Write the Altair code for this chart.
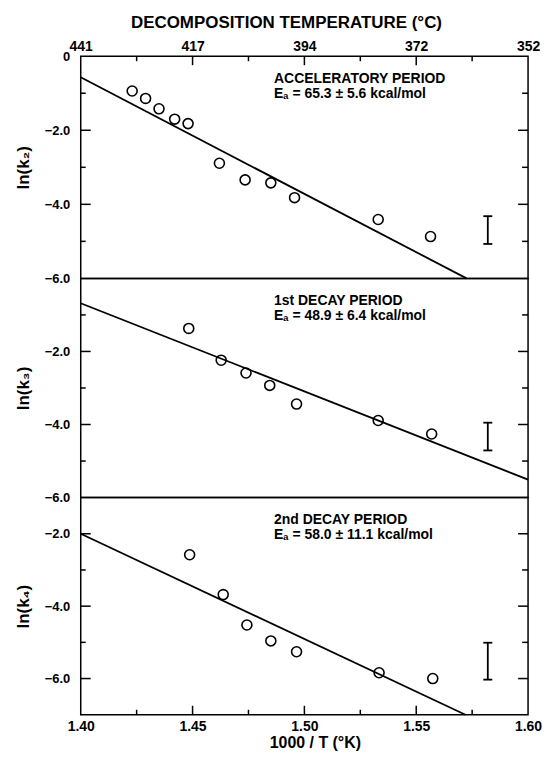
import altair as alt
import pandas as pd

# ---------------- data ----------------
top_tick_vals = [1.40, 1.45, 1.50, 1.55, 1.60]
top_labels = ["441", "417", "394", "372", "352"]
bottom_tick_vals = [1.40, 1.45, 1.50, 1.55, 1.60]
major_x_ticks = [1.45, 1.50, 1.55]
minor_x_ticks = [1.425, 1.475, 1.525, 1.575]

# Panel 1: ln(k2), accelerating period
k2_x = [1.423, 1.429, 1.435, 1.442, 1.448, 1.462, 1.4735, 1.485, 1.4956, 1.533, 1.5564]
k2_y = [-0.94, -1.14, -1.42, -1.70, -1.82, -2.89, -3.34, -3.42, -3.82, -4.41, -4.87]
k2_fit_x = [1.40, 1.5725]
k2_fit_y = [-0.57, -6.0]
k2_err = [1.582, -4.32, -5.07]

# Panel 2: ln(k3), 1st decay period
k3_x = [1.4483, 1.4628, 1.4739, 1.4845, 1.4965, 1.533, 1.5569]
k3_y = [-1.37, -2.24, -2.59, -2.93, -3.44, -3.89, -4.26]
k3_fit_x = [1.40, 1.60]
k3_fit_y = [-0.68, -5.51]
k3_err = [1.582, -3.95, -4.71]

# Panel 3: ln(k4), 2nd decay period
k4_x = [1.4487, 1.4637, 1.4743, 1.4850, 1.4965, 1.5334, 1.5574]
k4_y = [-2.58, -3.68, -4.52, -4.96, -5.26, -5.84, -6.00]
k4_fit_x = [1.40, 1.572]
k4_fit_y = [-2.0, -7.0]
k4_err = [1.582, -5.01, -6.03]

panel_titles = ["ACCELERATORY PERIOD", "1st DECAY PERIOD", "2nd DECAY PERIOD"]
panel_ea = ["Eₐ = 65.3 ± 5.6 kcal/mol", "Eₐ = 48.9 ± 6.4 kcal/mol", "Eₐ = 58.0 ± 11.1 kcal/mol"]
y_titles = ["ln(k₂)", "ln(k₃)", "ln(k₄)"]
y_domains = [[-6, 0], [-6, 0], [-7, -1]]
y_label_vals = [[0, -2, -4, -6], [-2, -4, -6], [-2, -4, -6]]
y_major = [[-2, -4], [-2, -4], [-2, -4, -6]]
y_minor = [[-1, -3, -5], [-1, -3, -5], [-3, -5]]

# ---------------- styling ----------------
FONT = "Liberation Sans"
W = 449
HEIGHTS = [223, 220, 218]

top_expr = "[" + ",".join(f"'{t}'" for t in top_labels) + "][round((datum.value - 1.4) / 0.05)]"

top_axis = alt.Axis(orient="top", values=top_tick_vals, labelExpr=top_expr, ticks=False, tickSize=0,
                    domain=False, grid=False, labelPadding=3, labelFont=FONT, labelFontSize=14,
                    labelFontWeight="bold", labelColor="black", labelFlush=False,
                    title="DECOMPOSITION TEMPERATURE (°C)", titleFont=FONT, titleFontSize=17,
                    titleFontWeight="bold", titleColor="black", titlePadding=8, titleX=206,
                    titleAlign="center")
bottom_axis = alt.Axis(orient="bottom", values=bottom_tick_vals, format=".2f", ticks=False, tickSize=0,
                       domain=False, grid=False, labelPadding=5, labelFont=FONT, labelFontSize=14,
                       labelFontWeight="bold", labelColor="black", labelFlush=False,
                       title="1000 / T (°K)", titleFont=FONT, titleFontSize=16, titleFontWeight="bold",
                       titleColor="black", titlePadding=1, titleX=235, titleAlign="center")


def make_panel(i, xs, ys, fx, fy, err, xaxis):
    H = HEIGHTS[i]
    xscale = alt.Scale(domain=[1.40, 1.60], nice=False, zero=False)
    yscale = alt.Scale(domain=y_domains[i], nice=False, zero=False)
    yaxis = alt.Axis(values=y_label_vals[i],
                     labelExpr="datum.value == 0 ? '0' : format(datum.value, '.1f')",
                     ticks=False, tickSize=0, domain=False, grid=False, labelPadding=11,
                     labelFont=FONT, labelFontSize=13, labelFontWeight="bold", labelColor="black",
                     labelFlush=False, labelOverlap=False, minExtent=40, maxExtent=40,
                     title=y_titles[i], titleFont=FONT, titleFontSize=17, titleFontWeight="bold",
                     titleColor="black", titlePadding=8)

    def X(f):
        return alt.X(f"{f}:Q", scale=xscale, axis=xaxis)

    def Y(f):
        return alt.Y(f"{f}:Q", scale=yscale, axis=yaxis)

    pts = pd.DataFrame({"x": xs, "y": ys})
    fit = pd.DataFrame({"x": fx, "y": fy})
    errdf = pd.DataFrame({"x": [err[0]], "y": [err[1]], "y2": [err[2]]})
    caps = pd.DataFrame({"x": [err[0], err[0]], "y": [err[1], err[2]]})

    layers = []
    layers.append(alt.Chart(fit).mark_line(color="black", strokeWidth=1.8).encode(x=X("x"), y=Y("y")))
    layers.append(alt.Chart(pts).mark_point(shape="circle", filled=False, size=100, color="black",
                                            strokeWidth=1.6, opacity=1).encode(x=X("x"), y=Y("y")))
    layers.append(alt.Chart(errdf).mark_rule(color="black", strokeWidth=1.8).encode(
        x=X("x"), y=Y("y"), y2="y2:Q"))
    layers.append(alt.Chart(caps).mark_point(shape="stroke", size=81, filled=False, color="black",
                                             strokeWidth=1.8, opacity=1).encode(x=X("x"), y=Y("y")))

    # inward ticks on left and right frame
    ymaj = pd.DataFrame({"v": y_major[i]})
    ymin = pd.DataFrame({"v": y_minor[i]})
    layers.append(alt.Chart(ymaj).mark_rule(color="black", strokeWidth=1.5).encode(
        y=Y("v"), x=alt.value(0), x2=alt.value(10)))
    layers.append(alt.Chart(ymin).mark_rule(color="black", strokeWidth=1.5).encode(
        y=Y("v"), x=alt.value(0), x2=alt.value(5)))
    layers.append(alt.Chart(ymaj).mark_rule(color="black", strokeWidth=1.5).encode(
        y=Y("v"), x=alt.value(W), x2=alt.value(W - 10)))
    layers.append(alt.Chart(ymin).mark_rule(color="black", strokeWidth=1.5).encode(
        y=Y("v"), x=alt.value(W), x2=alt.value(W - 6)))

    xmaj = pd.DataFrame({"v": major_x_ticks})
    xmin = pd.DataFrame({"v": minor_x_ticks})
    if i == 0:
        layers.append(alt.Chart(xmaj).mark_rule(color="black", strokeWidth=1.5).encode(
            x=X("v"), y=alt.value(0), y2=alt.value(9)))
        layers.append(alt.Chart(xmin).mark_rule(color="black", strokeWidth=1.5).encode(
            x=X("v"), y=alt.value(0), y2=alt.value(5)))
    if i == 2:
        layers.append(alt.Chart(xmaj).mark_rule(color="black", strokeWidth=1.5).encode(
            x=X("v"), y=alt.value(H), y2=alt.value(H - 9)))
        layers.append(alt.Chart(xmin).mark_rule(color="black", strokeWidth=1.5).encode(
            x=X("v"), y=alt.value(H), y2=alt.value(H - 5)))

    t1 = pd.DataFrame({"t": [panel_titles[i]]})
    t2 = pd.DataFrame({"t": [panel_ea[i]]})
    layers.append(alt.Chart(t1).mark_text(align="left", baseline="middle", font=FONT, fontSize=14,
                                          fontWeight="bold", color="black").encode(
        text="t:N", x=alt.value(194), y=alt.value(23)))
    layers.append(alt.Chart(t2).mark_text(align="left", baseline="middle", font=FONT, fontSize=14,
                                          fontWeight="bold", color="black").encode(
        text="t:N", x=alt.value(194), y=alt.value(38)))

    return alt.layer(*layers).properties(width=W, height=H)


p1 = make_panel(0, k2_x, k2_y, k2_fit_x, k2_fit_y, k2_err, top_axis)
p2 = make_panel(1, k3_x, k3_y, k3_fit_x, k3_fit_y, k3_err, None)
p3 = make_panel(2, k4_x, k4_y, k4_fit_x, k4_fit_y, k4_err, bottom_axis)

chart = (
    alt.vconcat(p1, p2, p3, spacing=0, bounds="flush")
    .resolve_scale(x="independent", y="independent")
    .properties(padding={"left": 6, "top": 3, "right": 0, "bottom": 0}, background="white")
    .configure_view(stroke="black", strokeWidth=1.5)
)

chart.save("out.html", embed_options={"renderer": "svg", "actions": False})
